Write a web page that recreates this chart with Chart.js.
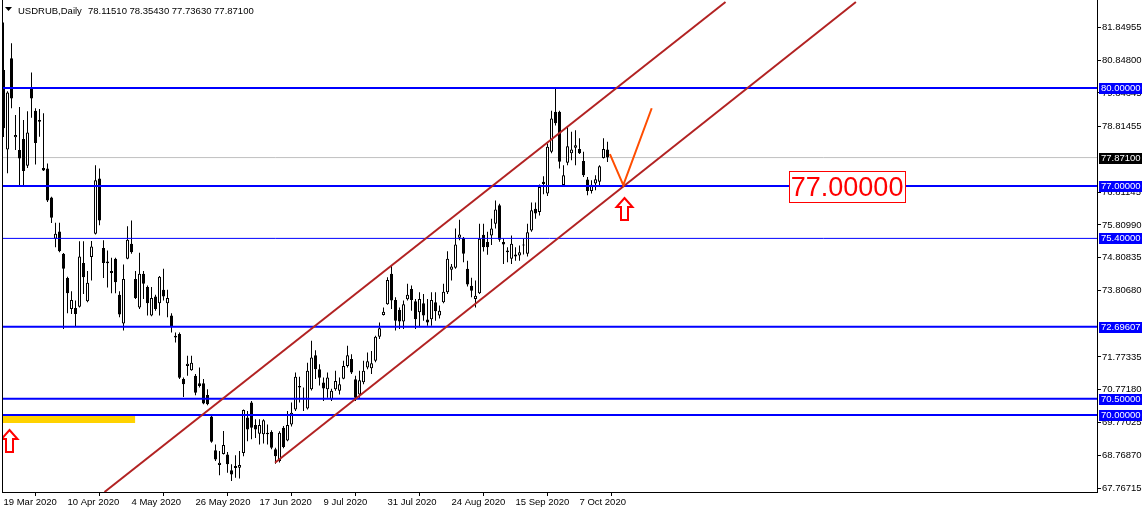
<!DOCTYPE html>
<html>
<head>
<meta charset="utf-8">
<script src="https://cdn.jsdelivr.net/npm/chart.js@4/dist/chart.umd.min.js"></script>
<style>
  html, body { margin: 0; padding: 0; background: #fff; }
  canvas { display: block; }
</style>
</head>
<body>
<canvas id="chart" width="1148" height="513"></canvas>
<script>
// USDRUB daily bars, 19 Mar 2020 .. 16 Oct 2020 (one value per trading day)
const openPrices = [
  80.55, 78.12, 80.91, 78.49, 78.10, 78.44, 77.62, 79.99, 79.30, 79.02,
  77.55, 77.54, 76.65, 75.39, 75.61, 74.93, 74.19, 73.24, 73.27, 73.31,
  74.65, 73.48, 74.83, 75.54, 77.23, 75.11, 74.69, 74.40, 74.78, 73.68,
  72.80, 74.78, 75.24, 74.16, 73.29, 74.32, 73.91, 73.04, 73.62, 73.42,
  73.83, 73.42, 73.04, 72.42, 72.48, 71.10, 71.50, 71.37, 71.20, 70.97,
  70.97, 70.61, 69.95, 68.92, 68.47, 68.81, 68.79, 68.31, 68.44, 68.39,
  68.84, 69.92, 70.38, 69.69, 69.43, 69.41, 69.46, 69.48, 68.95, 68.59,
  69.61, 69.22, 69.71, 70.17, 70.89, 70.53, 70.20, 70.79, 71.83, 71.40,
  70.99, 70.79, 70.48, 70.79, 70.74, 71.11, 71.50, 71.71, 71.09, 70.63,
  71.00, 71.45, 71.43, 71.66, 72.39, 73.06, 73.39, 74.32, 73.52, 73.21,
  72.86, 73.54, 73.85, 73.48, 73.14, 73.42, 72.92, 72.93, 73.45, 73.04,
  73.45, 73.75, 74.44, 74.50, 75.42, 75.42, 74.47, 73.95, 73.55, 73.72,
  75.51, 75.29, 75.49, 75.85, 76.41, 75.29, 75.03, 74.78, 74.85, 74.88,
  75.18, 74.93, 75.64, 76.31, 76.21, 77.13, 76.77, 78.05, 79.27, 79.27,
  77.03, 77.71, 78.00, 78.17, 78.13, 77.77, 77.20, 76.85, 77.08, 77.13,
  77.86, 78.1151
];
const highPrices = [
  82.00, 79.90, 81.37, 79.17, 79.42, 79.02, 79.29, 80.47, 79.38, 79.36,
  79.23, 77.69, 76.67, 75.88, 75.88, 74.95, 74.23, 73.78, 73.50, 75.31,
  75.31, 74.40, 75.32, 77.64, 77.54, 75.34, 75.03, 74.81, 74.81, 73.78,
  74.60, 75.77, 75.95, 74.40, 74.96, 74.40, 73.96, 73.91, 73.68, 74.25,
  74.47, 73.83, 73.11, 72.52, 72.52, 71.15, 71.81, 71.81, 71.25, 71.45,
  71.10, 70.79, 70.00, 69.10, 68.90, 69.51, 68.87, 68.49, 68.77, 68.90,
  70.17, 70.12, 70.43, 69.87, 69.87, 69.87, 69.71, 69.53, 69.00, 69.50,
  69.66, 70.12, 70.38, 71.30, 71.17, 70.84, 71.60, 72.27, 71.98, 71.55,
  71.15, 71.30, 70.80, 71.35, 71.15, 71.66, 72.12, 71.86, 71.20, 71.35,
  71.66, 71.91, 71.96, 72.42, 72.83, 73.29, 74.21, 74.57, 73.60, 73.29,
  73.50, 74.01, 73.96, 73.55, 73.75, 73.70, 73.55, 73.75, 73.75, 73.35,
  74.01, 75.01, 74.62, 75.70, 75.97, 75.44, 74.72, 74.20, 74.11, 75.85,
  75.85, 75.60, 76.00, 76.56, 76.46, 75.39, 75.13, 75.49, 75.13, 75.18,
  75.39, 75.85, 76.50, 76.50, 77.05, 77.30, 78.30, 79.30, 80.02, 79.30,
  77.64, 78.81, 78.66, 78.71, 78.46, 78.05, 77.28, 77.18, 77.33, 77.64,
  78.46, 78.3543
];
const lowPrices = [
  78.50, 77.39, 79.38, 78.10, 76.97, 77.00, 77.55, 79.09, 77.66, 78.51,
  77.46, 76.51, 75.87, 75.13, 74.98, 72.63, 73.11, 73.09, 72.70, 73.29,
  73.70, 73.45, 74.11, 75.52, 75.80, 74.19, 73.90, 73.72, 73.72, 72.99,
  72.58, 74.76, 74.93, 73.55, 73.24, 73.55, 73.04, 73.02, 73.19, 73.04,
  73.50, 72.99, 72.52, 72.22, 71.10, 70.55, 71.20, 71.35, 70.60, 70.84,
  70.33, 70.30, 69.15, 68.59, 68.16, 68.79, 68.23, 67.98, 68.08, 68.06,
  68.74, 69.20, 69.26, 69.30, 69.10, 69.13, 69.10, 68.95, 68.51, 68.55,
  68.98, 69.20, 69.65, 70.12, 70.38, 70.12, 70.17, 70.75, 71.10, 70.90,
  70.43, 70.53, 70.43, 70.74, 70.63, 71.09, 71.45, 71.25, 70.43, 70.53,
  70.94, 71.40, 71.25, 71.61, 72.32, 73.04, 73.37, 73.24, 72.58, 72.63,
  72.63, 73.50, 73.19, 72.63, 72.68, 72.88, 72.73, 72.73, 72.88, 72.95,
  73.42, 73.70, 74.11, 74.47, 75.34, 74.67, 73.93, 73.60, 73.29, 73.70,
  75.00, 74.90, 75.20, 75.70, 75.30, 74.62, 74.67, 74.62, 74.72, 74.72,
  74.91, 74.85, 75.60, 76.00, 76.10, 76.75, 76.70, 78.00, 78.85, 77.54,
  76.97, 77.64, 77.79, 77.64, 77.98, 77.28, 76.72, 76.77, 76.87, 77.00,
  77.84, 77.7363
];
const closePrices = [
  78.77, 79.86, 79.68, 78.56, 77.84, 77.46, 78.64, 79.68, 78.32, 78.97,
  77.48, 76.56, 76.03, 75.54, 75.01, 74.47, 73.72, 73.52, 73.09, 74.85,
  74.21, 74.04, 75.15, 77.18, 75.95, 74.65, 74.64, 74.34, 74.06, 73.07,
  74.16, 75.36, 74.98, 73.58, 74.32, 74.01, 73.42, 73.58, 73.24, 74.23,
  73.62, 73.58, 72.70, 72.37, 71.14, 70.94, 71.57, 71.60, 70.68, 70.89,
  70.35, 70.33, 69.18, 68.64, 68.54, 69.08, 68.49, 68.18, 68.38, 68.47,
  70.15, 69.56, 69.61, 69.56, 69.69, 69.84, 69.41, 69.00, 68.74, 69.46,
  69.02, 69.69, 70.07, 71.17, 70.84, 70.48, 71.35, 71.76, 71.40, 71.14,
  70.81, 71.15, 70.74, 71.04, 70.94, 71.50, 71.83, 71.30, 70.53, 71.06,
  71.35, 71.64, 71.58, 72.39, 72.65, 73.16, 74.13, 73.50, 72.88, 72.86,
  73.39, 73.68, 73.52, 72.93, 73.55, 73.04, 72.83, 73.52, 73.17, 73.19,
  73.77, 74.78, 74.54, 75.21, 75.52, 74.93, 73.99, 73.80, 73.65, 75.39,
  75.13, 75.13, 75.70, 76.28, 75.36, 75.21, 74.98, 75.24, 74.91, 74.98,
  75.21, 75.59, 76.26, 76.16, 76.97, 77.06, 78.20, 79.07, 78.92, 77.74,
  77.33, 78.22, 78.12, 78.25, 78.00, 77.33, 76.85, 77.04, 77.21, 77.61,
  78.13, 77.871
];

// time axis labels, one every 16 bars
const dateLabels = ['19 Mar 2020', '10 Apr 2020', '4 May 2020', '26 May 2020', '17 Jun 2020',
  '9 Jul 2020', '31 Jul 2020', '24 Aug 2020', '15 Sep 2020', '7 Oct 2020'];
const dateStep = 16;

// price axis labels
const priceTicks = [81.84955, 80.84800, 79.84645, 78.81455, 76.81145, 75.80990, 74.80835,
  73.80680, 71.77335, 70.77180, 69.77025, 68.76870, 67.76715];

// horizontal levels drawn on the chart
const levelPrices = [80.0, 77.0, 75.4, 72.69607, 70.5, 70.0];
const levelWidths = [2, 2, 1, 2, 2, 2];
const bidPrice = 77.871;

// trend channel and projection, as [bar index, price]
const upperChannel = [[25.25, 67.645], [180.5, 82.63]];
const lowerChannel = [[67.875, 68.54], [213.1, 82.63]];
const projection = [[151.6, 77.98], [154.95, 77.03], [162.05, 79.38]];

// marked zone and arrows
const zoneBars = [-0.2, 32.9];
const zonePrices = [70.0, 69.755];
const arrowMarks = [[1.25, 69.54], [155.0, 76.64]];
const bigLabel = { bar: 210.9, price: 77.0, text: '77.00000' };

const xMin = -0.375;
const xMax = xMin + 1095 / 4;
const yMin = 67.645;
const yMax = 82.69;

const FONT = '"Liberation Sans", Arial, sans-serif';

const candleIdx = openPrices.map((_, i) => i);
const wickData = candleIdx.map(i => ({ x: i, y: [lowPrices[i], highPrices[i]] }));
const bodyData = candleIdx.map(i => ({ x: i, y: [Math.min(openPrices[i], closePrices[i]), Math.max(openPrices[i], closePrices[i])] }));
const bodyColors = candleIdx.map(i => closePrices[i] >= openPrices[i] ? '#ffffff' : '#000000');

const toPoints = arr => arr.map(p => ({ x: p[0], y: p[1] }));

const datasets = [];
datasets.push({
  type: 'line', data: [{ x: xMin, y: bidPrice }, { x: xMax, y: bidPrice }],
  borderColor: '#c0c0c0', borderWidth: 1, pointRadius: 0, order: 10
});
datasets.push({
  type: 'bar', data: wickData, backgroundColor: '#000000', borderWidth: 0,
  barThickness: 1, grouped: false, inflateAmount: 0, order: 6
});
datasets.push({
  type: 'bar', data: bodyData, backgroundColor: bodyColors, borderColor: '#000000',
  borderWidth: 1, borderSkipped: false, barThickness: 3, grouped: false,
  inflateAmount: 0, minBarLength: 1, order: 5
});
levelPrices.forEach((p, k) => {
  datasets.push({
    type: 'line', data: [{ x: xMin, y: p }, { x: xMax, y: p }],
    borderColor: '#0000ff', borderWidth: levelWidths[k], pointRadius: 0, order: 3
  });
});
datasets.push({
  type: 'line', data: toPoints(upperChannel), borderColor: '#b22222',
  borderWidth: 2, pointRadius: 0, order: 2
});
datasets.push({
  type: 'line', data: toPoints(lowerChannel), borderColor: '#b22222',
  borderWidth: 2, pointRadius: 0, order: 2
});
datasets.push({
  type: 'line', data: toPoints(projection), borderColor: '#ff4d00',
  borderWidth: 2, pointRadius: 0, order: 1
});

function drawArrow(ctx, cx, top) {
  ctx.beginPath();
  ctx.moveTo(cx, top);
  ctx.lineTo(cx + 8, top + 9);
  ctx.lineTo(cx + 3.5, top + 9);
  ctx.lineTo(cx + 3.5, top + 22);
  ctx.lineTo(cx - 3.5, top + 22);
  ctx.lineTo(cx - 3.5, top + 9);
  ctx.lineTo(cx - 8, top + 9);
  ctx.closePath();
  ctx.fillStyle = '#ffffff';
  ctx.fill();
  ctx.strokeStyle = '#ff0000';
  ctx.lineWidth = 2;
  ctx.stroke();
}

const overlay = {
  id: 'overlay',
  beforeDatasetsDraw(chart) {
    const { ctx, chartArea, scales: { x, y } } = chart;
    ctx.save();
    ctx.beginPath();
    ctx.rect(chartArea.left, chartArea.top, chartArea.right - chartArea.left, chartArea.bottom - chartArea.top);
    ctx.clip();
    const x0 = x.getPixelForValue(zoneBars[0]), x1 = x.getPixelForValue(zoneBars[1]);
    const y0 = y.getPixelForValue(zonePrices[0]), y1 = y.getPixelForValue(zonePrices[1]);
    ctx.fillStyle = '#ffd200';
    ctx.fillRect(x0, y0, x1 - x0, y1 - y0);
    ctx.restore();
  },
  afterDatasetsDraw(chart) {
    const { ctx, chartArea, scales: { x, y } } = chart;
    ctx.save();
    ctx.beginPath();
    ctx.rect(chartArea.left, chartArea.top, chartArea.right - chartArea.left, chartArea.bottom - chartArea.top);
    ctx.clip();
    // arrows
    arrowMarks.forEach(a => drawArrow(ctx, Math.round(x.getPixelForValue(a[0])) + 0.5, Math.round(y.getPixelForValue(a[1]))));
    // big price label
    const bx = x.getPixelForValue(bigLabel.bar), by = y.getPixelForValue(bigLabel.price);
    ctx.fillStyle = '#ffffff';
    ctx.fillRect(bx - 58, by - 15, 116, 31);
    ctx.strokeStyle = '#ff0000';
    ctx.lineWidth = 1;
    ctx.strokeRect(Math.round(bx - 58) + 0.5, Math.round(by - 15) + 0.5, 116, 31);
    ctx.fillStyle = '#ff0000';
    ctx.font = '27px ' + FONT;
    ctx.textAlign = 'center';
    ctx.textBaseline = 'middle';
    ctx.fillText(bigLabel.text, bx, by + 2);
    ctx.restore();
  },
  afterDraw(chart) {
    const { ctx, chartArea, scales: { y } } = chart;
    ctx.save();
    // left frame
    ctx.fillStyle = '#000000';
    ctx.fillRect(chartArea.left, chartArea.top, 1, chartArea.bottom - chartArea.top);
    // price labels on the axis
    ctx.font = '9.5px ' + FONT;
    ctx.textAlign = 'left';
    ctx.textBaseline = 'middle';
    const axisLabel = (p, bg) => {
      const py = Math.round(y.getPixelForValue(p));
      ctx.fillStyle = bg;
      ctx.fillRect(chartArea.right + 2, py - 5, 43, 11);
      ctx.fillStyle = '#ffffff';
      ctx.fillText(p.toFixed(5), chartArea.right + 4, py + 0.5);
    };
    levelPrices.forEach(p => axisLabel(p, '#0000ff'));
    axisLabel(bidPrice, '#000000');
    // header
    const last = openPrices.length - 1;
    ctx.fillStyle = '#000000';
    ctx.beginPath();
    ctx.moveTo(5, 7); ctx.lineTo(12, 7); ctx.lineTo(8.5, 11); ctx.closePath();
    ctx.fill();
    ctx.font = '9.5px ' + FONT;
    ctx.textBaseline = 'alphabetic';
    ctx.fillText('USDRUB,Daily', 18, 14);
    ctx.fillText([openPrices[last], highPrices[last], lowPrices[last], closePrices[last]].map(v => v.toFixed(5)).join(' '), 88, 14);
    ctx.restore();
  }
};

new Chart(document.getElementById('chart'), {
  type: 'bar',
  data: { datasets },
  plugins: [overlay],
  options: {
    responsive: false,
    animation: false,
    devicePixelRatio: 1,
    layout: { padding: { left: 2, top: 0, right: 0, bottom: 0 } },
    plugins: { legend: { display: false }, tooltip: { enabled: false } },
    scales: {
      x: {
        type: 'linear', min: xMin, max: xMax, offset: false,
        grid: { display: true, drawOnChartArea: false, tickLength: 4, color: '#000000' },
        border: { display: true, color: '#000000', width: 1 },
        afterBuildTicks: s => { s.ticks = dateLabels.map((_, k) => ({ value: k * dateStep })); },
        afterFit: s => { s.height = 21; s.paddingLeft = 0; s.paddingRight = 0; },
        ticks: {
          autoSkip: false, maxRotation: 0, align: 'start', padding: 1, color: '#000000',
          font: { family: FONT, size: 9.5 },
          callback: v => dateLabels[Math.round(v / dateStep)]
        }
      },
      y: {
        type: 'linear', position: 'right', min: yMin, max: yMax,
        grid: { display: true, drawOnChartArea: false, tickLength: 4, color: '#000000' },
        border: { display: true, color: '#000000', width: 1 },
        afterBuildTicks: s => { s.ticks = priceTicks.map(v => ({ value: v })); },
        afterFit: s => { s.width = 51; s.paddingTop = 0; s.paddingBottom = 0; },
        ticks: {
          autoSkip: false, padding: 1, color: '#000000',
          font: { family: FONT, size: 9.5 },
          callback: v => v.toFixed(5)
        }
      }
    }
  }
});
</script>
</body>
</html>
